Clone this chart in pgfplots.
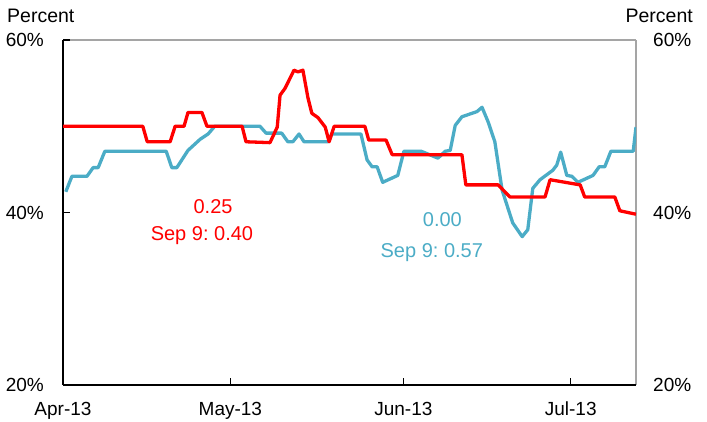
\documentclass[border=0pt]{standalone}
\usepackage{fontspec}
\setmainfont{Liberation Sans}
\usepackage{pgfplots}
\pgfplotsset{compat=1.18}
\definecolor{cred}{RGB}{255,0,0}
\definecolor{cblue}{RGB}{75,172,198}
\definecolor{cgrey}{RGB}{165,165,165}
\frenchspacing
\begin{document}
\begin{tikzpicture}
\useasboundingbox (0,0) rectangle (707pt,422pt);
% grey top/right frame with right labels
\begin{axis}[
  at={(63pt,37pt)}, anchor=south west,
  scale only axis, width=573pt, height=345pt,
  xmin=0, xmax=102.7, ymin=20, ymax=60,
  axis x line*=top, axis y line*=right,
  axis line style={cgrey, line width=1.5pt, -},
  xtick=\empty,
  ytick={20,40,60}, yticklabels={20\%,40\%,60\%},
  ytick style={draw=none},
  yticklabel style={font=\fontsize{19}{22}\selectfont, inner sep=0pt, anchor=west, xshift=17pt},
]
\end{axis}
\begin{axis}[
  at={(63pt,37pt)}, anchor=south west,
  scale only axis, width=573pt, height=345pt,
  xmin=0, xmax=102.7, ymin=20, ymax=60,
  axis x line*=bottom, axis y line*=left,
  axis line style={black, line width=1.6pt, -},
  tick align=inside,
  xtick={0,30,61,91}, xticklabels={Apr-13,May-13,Jun-13,Jul-13},
  ytick={20,40,60}, yticklabels={20\%,40\%,60\%},
  major tick length=6.5pt,
  tick style={black, line width=1.3pt},
  xticklabel style={font=\fontsize{19}{22}\selectfont, inner sep=0pt, anchor=north, yshift=-17pt},
  yticklabel style={font=\fontsize{19}{22}\selectfont, inner sep=0pt, anchor=east, xshift=-19pt},
]
\addplot[cblue, line width=3.3pt, line join=round] coordinates {
(0.5,42.4) (1.6,44.2) (4.3,44.2) (5.4,45.2) (6.3,45.2) (7.5,47.1) (18.5,47.1)
(19.5,45.2) (20.4,45.2) (22.4,47.2) (24.6,48.5) (26.0,49.1) (27.2,50.0) (35.3,50.0)
(36.4,49.2) (39.2,49.2) (40.3,48.2) (41.2,48.2) (42.3,49.1) (43.2,48.2) (47.5,48.2)
(48.2,49.1) (53.4,49.1) (54.5,46.1) (55.4,45.3) (56.3,45.3) (57.3,43.5) (60.0,44.3)
(61.1,47.1) (64.2,47.1) (67.2,46.3) (68.5,47.1) (69.4,47.2) (70.3,50.1) (71.5,51.1)
(74.2,51.7) (75.1,52.2) (76.2,50.5) (77.4,48.2) (78.7,42.6) (80.6,38.8) (82.3,37.2)
(83.3,38.0) (84.2,42.8) (85.5,43.8) (87.8,44.9) (88.5,45.5) (89.2,47.0) (90.3,44.3)
(91.2,44.2) (92.3,43.5) (95.0,44.3) (96.1,45.3) (97.1,45.3) (98.2,47.1) (102.2,47.1)
(102.7,49.9)
};
\addplot[cred, line width=3.3pt, line join=round] coordinates {
(0,50) (14.3,50) (15.1,48.2) (19.2,48.2) (20.1,50.0) (21.7,50.0) (22.4,51.6)
(24.9,51.6) (25.8,50) (32.1,50) (32.8,48.2) (37.1,48.1) (38.4,49.9) (38.9,53.6)
(39.8,54.4) (41.4,56.5) (42.1,56.3) (43.0,56.5) (43.9,53.3) (44.6,51.5) (45.7,51.0)
(47.0,49.9) (47.7,48.2) (48.6,50.0) (54.1,50.0) (54.8,48.4) (57.9,48.4) (59.0,46.7)
(71.5,46.7) (72.2,43.2) (78.0,43.2) (80.1,41.8) (86.4,41.8) (87.3,43.8) (92.7,43.2)
(93.5,41.8) (98.9,41.8) (99.8,40.2) (102.7,39.8)
};
\node[cred, anchor=base, inner sep=0pt, font=\fontsize{20}{24}\selectfont] at (axis cs:26.9,39.83) {0.25};
\node[cred, anchor=base, inner sep=0pt, font=\fontsize{20}{24}\selectfont] at (axis cs:24.9,36.81) {Sep 9: 0.40};
\node[cblue, anchor=base, inner sep=0pt, font=\fontsize{20}{24}\selectfont] at (axis cs:68.0,38.32) {0.00};
\node[cblue, anchor=base, inner sep=0pt, font=\fontsize{20}{24}\selectfont] at (axis cs:66.1,34.84) {Sep 9: 0.57};
\end{axis}
\node[anchor=base west, inner sep=0pt, font=\fontsize{19.5}{22}\selectfont] at (7pt,399.3pt) {Percent};
\node[anchor=base east, inner sep=0pt, font=\fontsize{19.5}{22}\selectfont] at (693pt,399.3pt) {Percent};
\end{tikzpicture}
\end{document}
